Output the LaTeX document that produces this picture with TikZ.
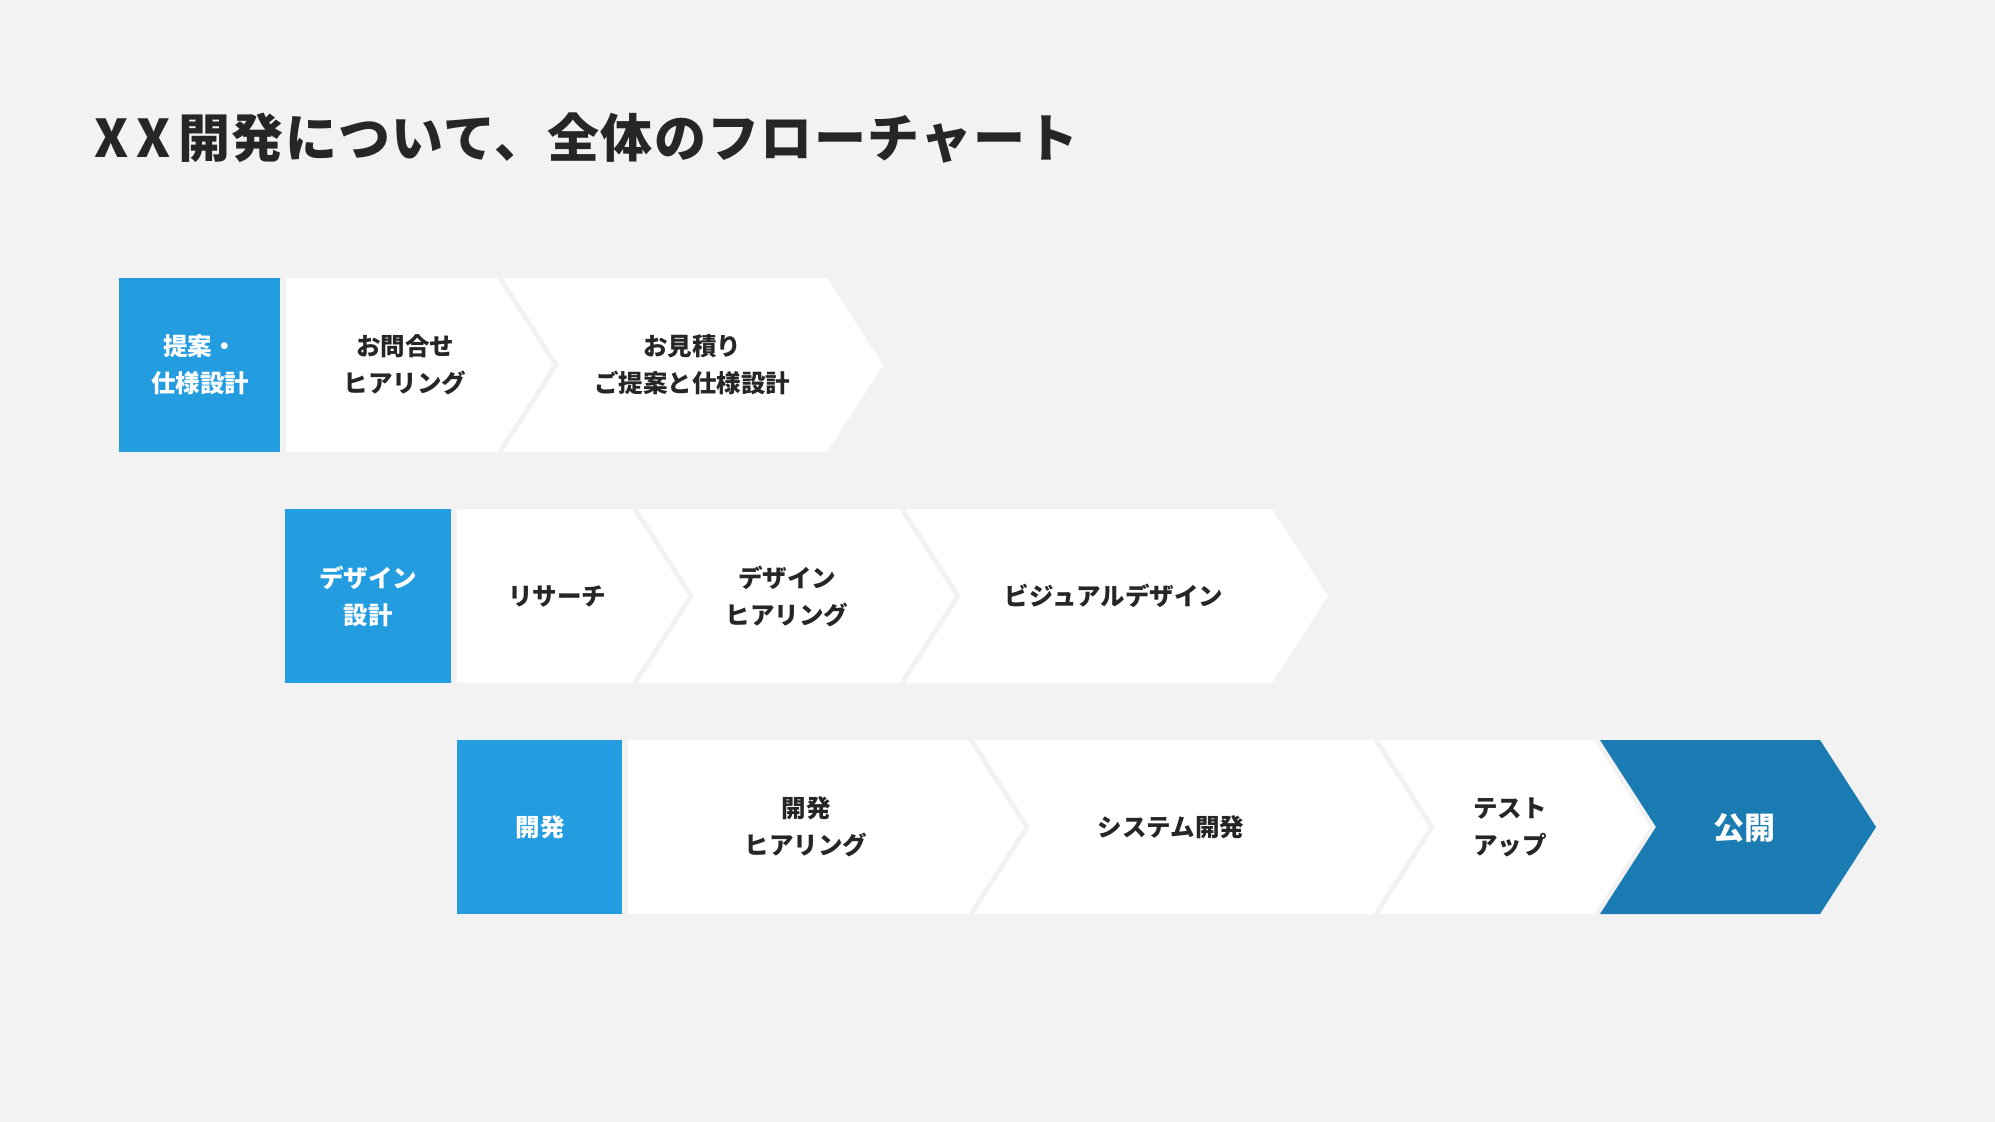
\documentclass[tikz,border=0pt]{standalone}
\usepackage{fontspec}
\newfontfamily\jp{Noto Sans CJK JP}
\newfontfamily\jptitle{Noto Sans CJK JP}[LetterSpace=2.5]
\usepackage{tikz}
\definecolor{bggray}{RGB}{242,242,242}
\definecolor{stageblue}{RGB}{35,157,224}
\definecolor{pubblue}{RGB}{27,124,179}
\definecolor{inkgray}{RGB}{38,38,38}
\begin{document}
\begin{tikzpicture}[x=0.5pt,y=-0.5pt,
  steptext/.style={text=inkgray,align=center,inner sep=0pt,font=\jp\bfseries\fontsize{12.25}{18.5}\selectfont},
  headtext/.style={text=white,align=center,inner sep=0pt,font=\jp\bfseries\fontsize{12.25}{18.5}\selectfont}]
\useasboundingbox (0,0) rectangle (1995,1122);
\fill [bggray] (0,0) rectangle (1995,1122);

\node [anchor=west, inner sep=0pt, text=inkgray, font=\jptitle\bfseries\fontsize{26}{30}\selectfont] (title) at (94,138) {X\kern4ptX\kern4pt開発について、全体のフローチャート};

% blue stage boxes
\fill [stageblue] (119,278) rectangle (280,452);
\fill [stageblue] (285,509) rectangle (451,683);
\fill [stageblue] (457,740) rectangle (622,914);

% white steps, flat left side
\foreach \l/\r/\t in {286/497/278, 457/632/509, 628/968/740}
  \fill [white] (\l,\t) -- (\r,\t) -- (\r+56,\t+87) -- (\r,\t+174) -- (\l,\t+174) -- cycle;

% white steps, notched left side
\foreach \l/\r/\t in {503/827/278, 638/899/509, 905/1272/509, 974/1373/740, 1379/1594/740}
  \fill [white] (\l,\t) -- (\r,\t) -- (\r+56,\t+87) -- (\r,\t+174) -- (\l,\t+174) -- (\l+56,\t+87) -- cycle;

% last step
\fill [pubblue] (1600,740) -- (1820,740) -- (1876,827) -- (1820,914) -- (1600,914) -- (1656,827) -- cycle;

\node [headtext] (s1) at (200,365) {提案・\\仕様設計};
\node [headtext] (s2) at (368,596) {デザイン\\設計};
\node [headtext] (s3) at (540,827) {開発};

\node [steptext] (a1) at (405,365) {お問合せ\\ヒアリング};
\node [steptext] (a2) at (692,365) {お見積り\\ご提案と仕様設計};

\node [steptext] (b1) at (557,596) {リサーチ};
\node [steptext] (b2) at (787,596) {デザイン\\ヒアリング};
\node [steptext] (b3) at (1114,596) {ビジュアルデザイン};

\node [steptext] (c1) at (806,827) {開発\\ヒアリング};
\node [steptext] (c2) at (1171,827) {システム開発};
\node [steptext] (c3) at (1510,827) {テスト\\アップ};
\node [headtext, font=\jp\bfseries\fontsize{15.5}{18.5}\selectfont] (c4) at (1744,828) {公開};
\end{tikzpicture}
\end{document}
